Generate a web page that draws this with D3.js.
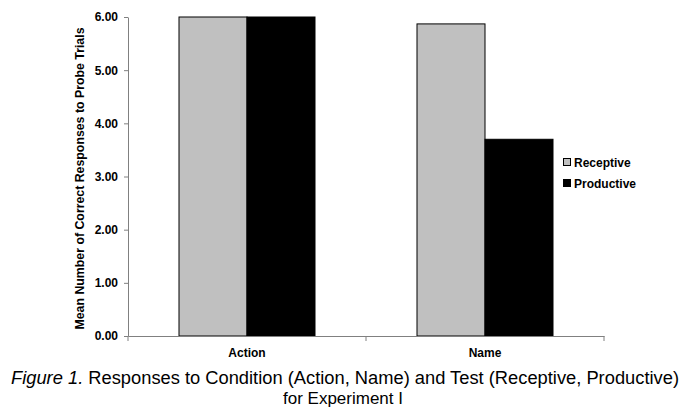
<!DOCTYPE html>
<html><head><meta charset="utf-8">
<script src="https://cdn.jsdelivr.net/npm/d3@7"></script>
<style>body{margin:0;background:#fff}svg{display:block}text{font-family:Arial,"Liberation Sans",sans-serif}</style>
</head><body>
<svg id="c" width="686" height="412"></svg>
<script>
const categories = ["Action", "Name"];
const seriesNames = ["Receptive", "Productive"];
const receptive = [6.00, 5.87];
const productive = [6.00, 3.70];
const yTicks = [0, 1, 2, 3, 4, 5, 6];
const colors = ["#c0c0c0", "#000000"];

const svg = d3.select("#c");
const m = {l:128, r:82, t:17, b:76};
const W = 686, H = 412;
const x0 = d3.scaleBand().domain(categories).range([m.l, W-m.r]).paddingInner(0).paddingOuter(0);
const x1 = d3.scaleBand().domain(seriesNames).range([0, x0.bandwidth()]).paddingInner(0).paddingOuter(0.75);
const y = d3.scaleLinear().domain([0, 6]).range([H-m.b, m.t]);

const data = categories.map((c,i)=>({cat:c, vals:[receptive[i], productive[i]]}));
const g = svg.append("g");
g.selectAll("g.grp").data(data).join("g")
  .attr("transform", d=>`translate(${x0(d.cat)},0)`)
  .selectAll("rect").data(d=>d.vals.map((v,j)=>({s:seriesNames[j], v, j})))
  .join("rect")
  .attr("x", d=>x1(d.s)).attr("width", x1.bandwidth())
  .attr("y", d=>y(d.v)).attr("height", d=>y(0)-y(d.v))
  .attr("fill", d=>colors[d.j]).attr("stroke","#000").attr("stroke-width",1);

// y axis
const ya = svg.append("g").attr("transform",`translate(${m.l},0)`)
  .call(d3.axisLeft(y).tickValues(yTicks).tickFormat(d3.format(".2f")).tickSize(4).tickSizeOuter(0));
ya.select(".domain").attr("stroke","#808080");
ya.selectAll(".tick line").attr("stroke","#808080");
ya.selectAll(".tick text").attr("font-size",12).attr("font-weight","bold").attr("fill","#000").attr("x",-10);

// x axis
const xa = svg.append("g").attr("transform",`translate(0,${y(0)})`)
  .call(d3.axisBottom(x0).tickSize(0).tickSizeOuter(0));
xa.select(".domain").attr("stroke","#808080");
xa.selectAll(".tick text").attr("font-size",12).attr("font-weight","bold").attr("fill","#000").attr("dy","0").attr("y",21);
// boundary ticks
const bounds = [x0.range()[0]].concat(categories.map(c=>x0(c)+x0.bandwidth()));
svg.append("g").selectAll("line").data(bounds).join("line")
  .attr("x1",d=>d).attr("x2",d=>d).attr("y1",y(0)).attr("y2",y(0)+5)
  .attr("stroke","#808080");

// y title
svg.append("text").attr("transform",`translate(84,${(m.t+H-m.b)/2+2}) rotate(-90)`)
  .attr("text-anchor","middle").attr("font-size",12).attr("font-weight","bold")
  .attr("textLength",302).attr("lengthAdjust","spacingAndGlyphs")
  .text("Mean Number of Correct Responses to Probe Trials");

// legend
const lg = svg.append("g").attr("transform","translate(563,158)");
seriesNames.forEach((s,i)=>{
  lg.append("rect").attr("x",0.5).attr("y",i*21+0.5).attr("width",7).attr("height",7)
    .attr("fill",colors[i]).attr("stroke","#000").attr("stroke-width",1);
  lg.append("text").attr("x",11).attr("y",i*21+9).attr("font-size",12).attr("font-weight","bold").text(s);
});

// caption
const cap = svg.append("text").attr("x",345).attr("y",384).attr("text-anchor","middle").attr("font-size",17.5)
  .attr("textLength",668).attr("lengthAdjust","spacingAndGlyphs");
cap.append("tspan").attr("font-style","italic").text("Figure 1.");
cap.append("tspan").text(" Responses to Condition (Action, Name) and Test (Receptive, Productive)");
svg.append("text").attr("x",343).attr("y",404).attr("text-anchor","middle").attr("font-size",17).text("for Experiment I");
</script>
</body></html>
